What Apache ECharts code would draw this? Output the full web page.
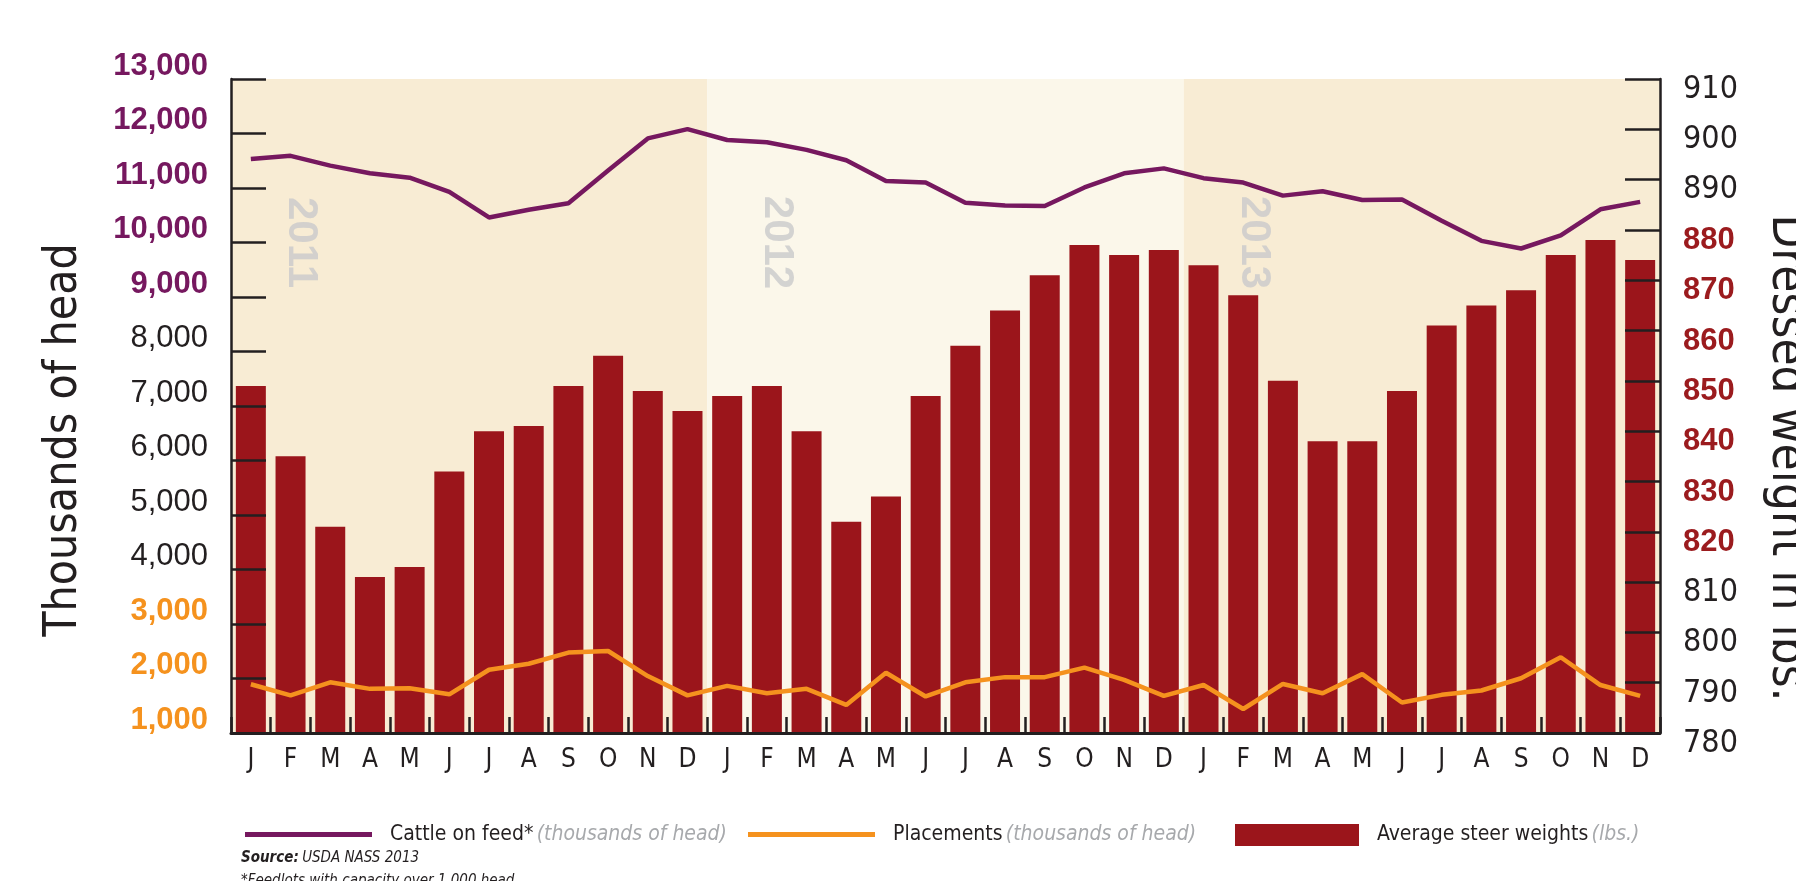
<!DOCTYPE html>
<html><head><meta charset="utf-8">
<script src="https://cdn.jsdelivr.net/npm/echarts@6/dist/echarts.min.js"></script>
<style>html,body{margin:0;padding:0;background:#fff}#c{width:1796px;height:881px}</style>
</head><body><div id="c"></div>
<script>
// ---- data ----
const monthLetters = ['J','F','M','A','M','J','J','A','S','O','N','D'];
const years = ['2011','2012','2013'];
// Cattle on feed (thousands of head), Jan 2011 .. Dec 2013
const cattleOnFeed = [
  11530, 11590, 11410, 11270, 11190, 10930, 10460, 10600, 10720, 11320, 11910, 12080,
  11880, 11840, 11700, 11510, 11130, 11100, 10730, 10680, 10670, 11010, 11270, 11360,
  11180, 11100, 10860, 10940, 10780, 10790, 10400, 10030, 9890, 10130, 10610, 10745
];
// Placements (thousands of head)
const placements = [
  1895, 1690, 1930, 1810, 1820, 1710, 2160, 2270, 2475, 2505, 2045, 1690,
  1865, 1730, 1810, 1515, 2105, 1670, 1930, 2025, 2025, 2200, 1975, 1680,
  1880, 1440, 1900, 1730, 2080, 1560, 1700, 1780, 2005, 2390, 1880, 1680
];
// Average steer dressed weights (lbs.)
const steerWeights = [
  849, 835, 821, 811, 813, 832, 840, 841, 849, 855, 848, 844,
  847, 849, 840, 822, 827, 847, 857, 864, 871, 877, 875, 876,
  873, 867, 850, 838, 838, 848, 861, 865, 868, 875, 878, 874
];
const leftAxisRange = [1000, 13000, 1000];
const rightAxisRange = [780, 910, 10];

// ---- derived ----
const categories = [];
years.forEach(() => monthLetters.forEach(m => categories.push(m)));
const yearBands = years.map((y, i) => [i * 12, (i + 1) * 12]);
const yearLabelPos = years.map((y, i) => ({ name: y, value: [i * 12 + 1.75, 10000] }));

const NARROW = "'Liberation Sans Narrow','DejaVu Sans Condensed','Roboto',sans-serif";
const SANS = "'Liberation Sans','Arial',sans-serif";
const INK = '#231f20';
const PURPLE = '#76185f';
const ORANGE = '#f5921e';
const RED = '#9b151b';
const BAND_DARK = '#f8ecd4';
const BAND_LIGHT = '#fbf7ea';

const chart = echarts.init(document.getElementById('c'), null, { renderer: 'canvas' });

const legendRich = {
  a: { fontFamily: NARROW, fontSize: 21, color: INK, padding: [0, 0, 0, 13], lineHeight: 30 },
  b: { fontFamily: NARROW, fontSize: 21, color: '#a7a9ac', fontStyle: 'italic', lineHeight: 30 }
};

const option = {
  backgroundColor: '#ffffff',
  animation: false,
  grid: { left: 231, right: 136, top: 79, bottom: 148, containLabel: false },
  xAxis: [
    {
      type: 'category', data: categories, boundaryGap: true, z: 10,
      axisLine: { show: true, lineStyle: { color: INK, width: 3 } },
      axisTick: { show: true, inside: true, length: 16, interval: 0, lineStyle: { color: INK, width: 2.5 } },
      axisLabel: { interval: 0, margin: 14, fontSize: 26, fontFamily: NARROW, color: INK },
      splitLine: { show: false }
    },
    { type: 'value', min: 0, max: 36, show: false }
  ],
  yAxis: [
    {
      type: 'value', position: 'left', min: leftAxisRange[0], max: leftAxisRange[1], interval: leftAxisRange[2], z: 10,
      axisLine: { show: true, lineStyle: { color: INK, width: 2.5 } },
      axisTick: { show: true, inside: true, length: 35, lineStyle: { color: INK, width: 2.5 } },
      splitLine: { show: false },
      axisLabel: {
        margin: 23, padding: [0, 0, 26, 0],
        formatter: v => {
          const s = v.toLocaleString('en-US');
          if (v >= 9000) return '{p|' + s + '}';
          if (v <= 3000) return '{o|' + s + '}';
          return '{k|' + s + '}';
        },
        rich: {
          p: { color: PURPLE, fontWeight: 'bold', fontSize: 31, fontFamily: SANS },
          o: { color: ORANGE, fontWeight: 'bold', fontSize: 31, fontFamily: SANS },
          k: { color: INK, fontWeight: 'normal', fontSize: 31, fontFamily: SANS }
        }
      }
    },
    {
      type: 'value', position: 'right', min: rightAxisRange[0], max: rightAxisRange[1], interval: rightAxisRange[2], z: 10,
      axisLine: { show: true, lineStyle: { color: INK, width: 2.5 } },
      axisTick: { show: true, inside: true, length: 35, lineStyle: { color: INK, width: 2.5 } },
      splitLine: { show: false },
      axisLabel: {
        margin: 23, padding: [21, 0, 0, 0],
        formatter: v => (v >= 820 && v <= 880) ? '{r|' + v + '}' : '{k|' + v + '}',
        rich: {
          r: { color: '#9b1b1e', fontWeight: 'bold', fontSize: 31, fontFamily: SANS },
          k: { color: INK, fontWeight: 'normal', fontSize: 32, fontFamily: NARROW }
        }
      }
    }
  ],
  legend: [
    {
      data: [{ name: 'Cattle on feed*', icon: 'rect' }], left: 240, top: 819, padding: 5,
      itemWidth: 127, itemHeight: 5, selectedMode: false,
      formatter: () => '{a|Cattle on feed*} {b|(thousands of head)}',
      textStyle: { rich: legendRich }
    },
    {
      data: [{ name: 'Placements', icon: 'rect' }], left: 743, top: 819, padding: 5,
      itemWidth: 127, itemHeight: 5, selectedMode: false,
      formatter: () => '{a|Placements} {b|(thousands of head)}',
      textStyle: { rich: legendRich }
    },
    {
      data: [{ name: 'Average steer weights', icon: 'rect' }], left: 1230, top: 819, padding: 5,
      itemWidth: 124, itemHeight: 22, selectedMode: false,
      formatter: () => '{a|Average steer weights} {b|(lbs.)}',
      textStyle: { rich: legendRich }
    }
  ],
  series: [
    {
      name: 'years', type: 'scatter', xAxisIndex: 1, yAxisIndex: 0, z: 1,
      symbolSize: 1, itemStyle: { color: 'rgba(0,0,0,0)' }, silent: true,
      data: yearLabelPos,
      label: {
        show: true, position: 'inside', rotate: -90, formatter: p => p.name,
        fontSize: 42, fontWeight: 900, fontFamily: SANS, color: '#c9c9cb'
      },
      markArea: {
        silent: true,
        data: yearBands.map((b, i) => [
          { xAxis: b[0], itemStyle: { color: i === 1 ? BAND_LIGHT : BAND_DARK } },
          { xAxis: b[1] }
        ])
      }
    },
    {
      name: 'Average steer weights', type: 'bar', xAxisIndex: 0, yAxisIndex: 1, z: 2,
      data: steerWeights, barWidth: 30, itemStyle: { color: RED }, color: RED
    },
    {
      name: 'Cattle on feed*', type: 'line', xAxisIndex: 0, yAxisIndex: 0, z: 3,
      data: cattleOnFeed, symbol: 'none', color: PURPLE,
      lineStyle: { color: PURPLE, width: 4.5 }, itemStyle: { color: PURPLE }
    },
    {
      name: 'Placements', type: 'line', xAxisIndex: 0, yAxisIndex: 0, z: 3,
      data: placements, symbol: 'none', color: ORANGE,
      lineStyle: { color: ORANGE, width: 4.5 }, itemStyle: { color: ORANGE }
    }
  ],
  graphic: [
    {
      type: 'text', x: 64, y: 440, rotation: Math.PI / 2,
      style: { text: 'Thousands of head', align: 'center', verticalAlign: 'middle', fontSize: 46, fontFamily: NARROW, fill: INK }
    },
    {
      type: 'text', x: 1786, y: 458, rotation: -Math.PI / 2,
      style: { text: 'Dressed weight in lbs.', align: 'center', verticalAlign: 'middle', fontSize: 49, fontFamily: NARROW, fill: INK }
    },
    {
      type: 'text', left: 241, top: 851,
      style: {
        text: '{b|Source:} {i|USDA NASS 2013}',
        rich: {
          b: { fontFamily: NARROW, fontSize: 15, fontWeight: 'bold', fontStyle: 'italic', fill: INK },
          i: { fontFamily: NARROW, fontSize: 15, fontStyle: 'italic', fill: INK }
        }
      }
    },
    {
      type: 'text', left: 241, top: 874,
      style: { text: '*Feedlots with capacity over 1,000 head', fontFamily: NARROW, fontSize: 15, fontStyle: 'italic', fill: INK }
    }
  ]
};
chart.setOption(option);
</script>
</body></html>
